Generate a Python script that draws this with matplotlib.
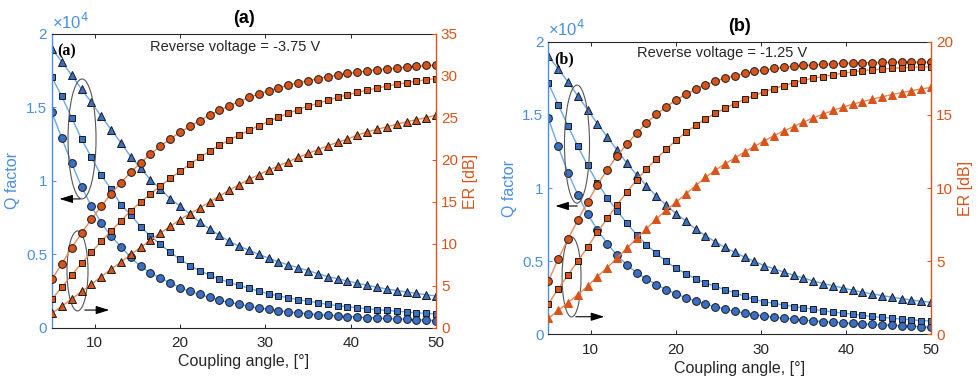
import numpy as np
import matplotlib.pyplot as plt
from matplotlib.patches import Ellipse

plt.rcParams['font.family'] = ['Liberation Sans', 'DejaVu Sans']

# coupling angle samples (degrees)
angle = np.linspace(5, 50, 40)

# Q factor (x1e4), panel (a), reverse voltage -3.75 V
q_circ_a = [1.467, 1.29, 1.12, 0.96, 0.83, 0.715, 0.625, 0.553, 0.48, 0.42,
            0.375, 0.34, 0.307, 0.275, 0.25, 0.228, 0.208, 0.19, 0.175, 0.162,
            0.148, 0.137, 0.127, 0.118, 0.11, 0.103, 0.097, 0.091, 0.086, 0.082,
            0.078, 0.074, 0.071, 0.068, 0.065, 0.062, 0.059, 0.056, 0.053, 0.05]
q_sq_a = [1.705, 1.575, 1.43, 1.285, 1.16, 1.04, 0.945, 0.84, 0.77, 0.69,
          0.625, 0.57, 0.515, 0.468, 0.425, 0.39, 0.36, 0.333, 0.31, 0.29,
          0.27, 0.25, 0.232, 0.218, 0.205, 0.193, 0.182, 0.172, 0.16, 0.152,
          0.145, 0.138, 0.131, 0.125, 0.119, 0.114, 0.109, 0.104, 0.099, 0.095]
q_tri_a = [1.90, 1.81, 1.72, 1.625, 1.535, 1.44, 1.35, 1.26, 1.165, 1.086,
           1.01, 0.945, 0.88, 0.83, 0.775, 0.72, 0.675, 0.63, 0.59, 0.556,
           0.53, 0.50, 0.476, 0.45, 0.43, 0.41, 0.39, 0.37, 0.35, 0.335,
           0.32, 0.305, 0.29, 0.278, 0.265, 0.255, 0.245, 0.235, 0.226, 0.218]

# ER (dB), panel (a)
er_circ_a = [5.8, 7.65, 9.55, 11.3, 12.95, 14.5, 15.95, 17.3, 18.55, 19.65,
             20.7, 21.65, 22.5, 23.3, 24.0, 24.7, 25.35, 25.9, 26.45, 26.95,
             27.45, 27.85, 28.25, 28.6, 28.9, 29.2, 29.45, 29.7, 29.9, 30.1,
             30.3, 30.45, 30.6, 30.75, 30.85, 30.95, 31.05, 31.15, 31.25, 31.3]
er_sq_a = [3.45, 4.85, 6.3, 7.7, 9.0, 10.3, 11.55, 12.75, 13.95, 15.0,
           15.95, 16.9, 17.8, 18.65, 19.5, 20.3, 21.05, 21.75, 22.4, 22.95,
           23.55, 24.05, 24.6, 25.1, 25.55, 26.0, 26.4, 26.75, 27.1, 27.45,
           27.75, 28.05, 28.3, 28.55, 28.8, 29.0, 29.2, 29.4, 29.55, 29.7]
er_tri_a = [1.75, 2.6, 3.45, 4.35, 5.2, 6.1, 7.0, 7.85, 8.75, 9.6,
            10.45, 11.3, 12.1, 12.9, 13.6, 14.3, 15.0, 15.7, 16.4, 17.05,
            17.7, 18.25, 18.8, 19.3, 19.8, 20.3, 20.8, 21.2, 21.7, 22.1,
            22.5, 22.95, 23.35, 23.65, 23.95, 24.25, 24.55, 24.8, 25.05, 25.35]

# Q factor (x1e4), panel (b), reverse voltage -1.25 V
q_circ_b = [1.476, 1.285, 1.105, 0.955, 0.82, 0.715, 0.62, 0.54, 0.475, 0.42,
            0.378, 0.34, 0.306, 0.277, 0.25, 0.227, 0.207, 0.188, 0.172, 0.157,
            0.145, 0.134, 0.125, 0.117, 0.11, 0.104, 0.098, 0.092, 0.087, 0.083,
            0.079, 0.075, 0.071, 0.068, 0.065, 0.061, 0.058, 0.055, 0.052, 0.049]
q_sq_b = [1.716, 1.57, 1.425, 1.285, 1.155, 1.035, 0.935, 0.845, 0.76, 0.68,
          0.612, 0.553, 0.498, 0.452, 0.415, 0.38, 0.352, 0.328, 0.305, 0.284,
          0.26, 0.238, 0.222, 0.212, 0.2, 0.19, 0.181, 0.171, 0.162, 0.152,
          0.145, 0.137, 0.13, 0.122, 0.116, 0.11, 0.104, 0.099, 0.094, 0.091]
q_tri_b = [1.90, 1.815, 1.725, 1.63, 1.535, 1.44, 1.35, 1.26, 1.17, 1.09,
           1.015, 0.945, 0.885, 0.825, 0.775, 0.72, 0.675, 0.632, 0.594, 0.56,
           0.528, 0.498, 0.47, 0.447, 0.425, 0.403, 0.385, 0.364, 0.347, 0.332,
           0.317, 0.302, 0.288, 0.276, 0.265, 0.254, 0.244, 0.234, 0.226, 0.219]

# ER (dB), panel (b)
er_circ_b = [3.63, 5.15, 6.5, 7.8, 9.05, 10.2, 11.25, 12.2, 13.0, 13.75,
             14.45, 15.03, 15.55, 16.0, 16.4, 16.75, 17.05, 17.3, 17.5, 17.68,
             17.84, 17.97, 18.08, 18.17, 18.25, 18.32, 18.38, 18.42, 18.46, 18.49,
             18.52, 18.54, 18.56, 18.57, 18.58, 18.59, 18.6, 18.6, 18.6, 18.6]
er_sq_b = [2.07, 3.1, 4.05, 5.0, 5.97, 6.97, 7.93, 8.84, 9.72, 10.55,
           11.3, 12.0, 12.64, 13.25, 13.8, 14.28, 14.72, 15.1, 15.45, 15.77,
           16.07, 16.33, 16.58, 16.8, 17.0, 17.2, 17.37, 17.5, 17.62, 17.73,
           17.84, 17.94, 18.01, 18.07, 18.13, 18.18, 18.22, 18.25, 18.27, 18.29]
er_tri_b = [1.09, 1.63, 2.17, 2.71, 3.28, 3.95, 4.55, 5.2, 5.88, 6.55,
            7.22, 7.88, 8.48, 9.02, 9.58, 10.15, 10.72, 11.22, 11.65, 12.05,
            12.47, 12.85, 13.22, 13.58, 13.9, 14.2, 14.5, 14.8, 15.05, 15.3,
            15.52, 15.73, 15.9, 16.07, 16.23, 16.38, 16.52, 16.65, 16.77, 16.88]

BLUE_AX = '#4a8fe0'
BLUE_FILL = '#3a6fc6'
BLUE_LINE = '#6aa8ea'
ORANGE = '#d9541a'
ORANGE_LINE = '#ec8a55'
DARK = '#262626'
EDGE = '#1a1a1a'


def panel(fig, rect, q_data, er_data, er_max, tri_edge, tag, voltage, title,
          text_x, text_y, ell1, arr1, ell2, arr2):
    ax = fig.add_axes(rect)
    ax2 = ax.twinx()

    for y, m, ms in zip(q_data, ['o', 's', '^'], [5.6, 4.0, 6.2]):
        ax.plot(angle, y, color=BLUE_LINE, lw=1.0, marker=m, ms=ms,
                mfc=BLUE_FILL, mec=EDGE, mew=0.7)
    for i, (y, m, ms) in enumerate(zip(er_data, ['o', 's', '^'], [5.6, 4.0, 6.2])):
        mec = tri_edge if i == 2 else EDGE
        ax2.plot(angle, y, color=ORANGE_LINE, lw=1.0, marker=m, ms=ms,
                 mfc=ORANGE, mec=mec, mew=0.7)

    ax.set_xlim(5, 50)
    ax.set_ylim(0, 2)
    ax2.set_ylim(0, er_max)
    ax.set_xticks([10, 20, 30, 40, 50])
    ax.set_yticks([0, 0.5, 1, 1.5, 2])
    ax.set_yticklabels(['0', '0.5', '1', '1.5', '2'])
    ax2.set_yticks(np.arange(0, er_max + 1, 5))

    ax.tick_params(axis='x', direction='in', top=True, colors=DARK,
                   labelsize=11, length=3, width=0.7, pad=6)
    ax.tick_params(axis='y', direction='in', colors=BLUE_AX, labelsize=11,
                   length=3, width=0.7)
    ax2.tick_params(axis='y', direction='in', colors=ORANGE, labelsize=11,
                    length=3, width=0.7)

    for s in ['top', 'bottom']:
        ax.spines[s].set_color(DARK)
        ax.spines[s].set_linewidth(0.8)
        ax2.spines[s].set_visible(False)
    ax.spines['left'].set_color(BLUE_AX)
    ax.spines['left'].set_linewidth(1.0)
    ax.spines['right'].set_visible(False)
    ax2.spines['left'].set_visible(False)
    ax2.spines['right'].set_color(ORANGE)
    ax2.spines['right'].set_linewidth(1.0)

    ax.set_ylabel('Q factor', color=BLUE_AX, fontsize=11.5, labelpad=4)
    ax2.set_ylabel('ER [dB]', color=ORANGE, fontsize=11.5, labelpad=4)
    ax.set_xlabel('Coupling angle, [°]', color=DARK, fontsize=11.5, labelpad=3)
    ax.set_title(title, fontsize=13, fontweight='bold', pad=8)
    ax.text(0.0, 1.008, '×10$^4$', transform=ax.transAxes, color=BLUE_AX,
            fontsize=12, ha='left', va='bottom')

    ax2.text(0.015, 0.968, tag, transform=ax.transAxes, fontsize=11.5,
             fontweight='bold', family='Liberation Serif', va='top', ha='left')
    ax2.text(text_x, text_y, voltage, transform=ax.transAxes, fontsize=10.5,
             color=DARK, va='center', ha='center')

    for (cx, cy, w, h) in [ell1, ell2]:
        ax2.add_patch(Ellipse((cx, cy), w, h, transform=ax.transData,
                              fill=False, ec='#555555', lw=0.8))
    for (x0, x1, yy) in [arr1, arr2]:
        ax2.annotate('', xy=(x1, yy), xytext=(x0, yy), xycoords=ax.transData,
                     textcoords=ax.transData,
                     arrowprops=dict(arrowstyle='-|>,head_length=0.8,head_width=0.25',
                                     color='k', lw=0.8))
    ax2.set_ylim(0, er_max)
    ax.set_xlim(5, 50)


fig = plt.figure(figsize=(9.79, 3.92), dpi=100)

panel(fig, [0.0531, 0.1633, 0.3923, 0.75],
      [q_circ_a, q_sq_a, q_tri_a], [er_circ_a, er_sq_a, er_tri_a], 35, EDGE,
      '(a)', 'Reverse voltage = -3.75 V', '(a)', 0.478, 0.955,
      (8.52, 1.286, 3.28, 0.816), (8.63, 5.55, 0.878),
      (7.99, 0.388, 2.46, 0.544), (8.52, 12.03, 0.122))

panel(fig, [0.5601, 0.1472, 0.3909, 0.7464],
      [q_circ_b, q_sq_b, q_tri_b], [er_circ_b, er_sq_b, er_tri_b], 20, ORANGE,
      '(b)', 'Reverse voltage = -1.25 V', '(b)', 0.453, 0.963,
      (8.37, 1.30, 2.94, 0.807), (8.73, 5.5, 0.877),
      (7.73, 0.392, 2.23, 0.547), (7.9, 11.9, 0.12))

fig.savefig('out.png', dpi=100)
